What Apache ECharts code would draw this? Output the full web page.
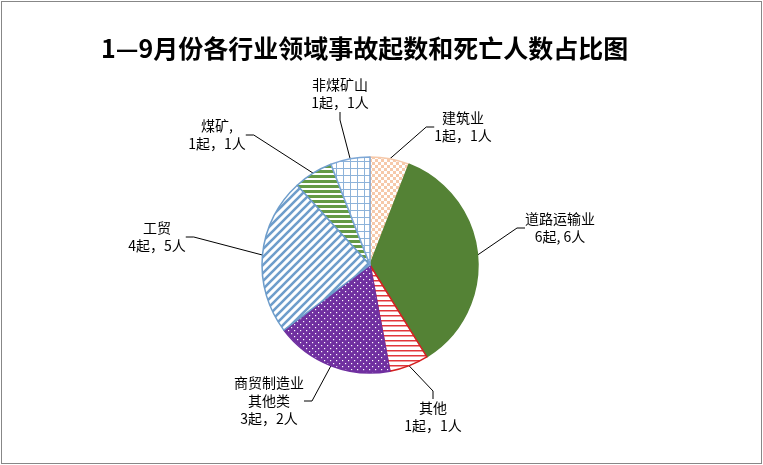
<!DOCTYPE html>
<html lang="zh">
<head>
    <meta charset="UTF-8">
    <script src="https://cdn.jsdelivr.net/npm/echarts@6/dist/echarts.min.js"></script>
    <title>事故占比图</title>
    <style>
        body { margin: 0; background: #fff; }
        #main { position: absolute; left: 0; top: 0; width: 763px; height: 465px; }
        #frame { position: absolute; left: 1px; top: 1px; width: 761px; height: 463px;
                 box-sizing: border-box; border: 1px solid #878787; pointer-events: none; }
    </style>
</head>
<body>
<div id="main"></div>
<div id="frame"></div>
<script>
    // 数据
    var categories = ['建筑业', '道路运输业', '其他', '商贸制造业其他类', '工贸', '煤矿', '非煤矿山'];
    var labelNames = ['建筑业', '道路运输业', '其他', '商贸制造业\n其他类', '工贸', '煤矿,', '非煤矿山'];
    var accidents = [1, 6, 1, 3, 4, 1, 1];   // 起数
    var deaths = [1, 6, 1, 2, 5, 1, 1];      // 死亡人数
    var commas = ['，', ', ', '，', '，', '，', '，', '，'];

    // 标签位置(中心点)
    var labelPos = [[463, 127], [560, 228], [433, 417], [269, 401], [157, 237], [217, 135], [340, 94]];

    function pattern(w, h, draw) {
        var c = document.createElement('canvas');
        c.width = w; c.height = h;
        var ctx = c.getContext('2d');
        ctx.fillStyle = '#fff';
        ctx.fillRect(0, 0, w, h);
        draw(ctx);
        return { image: c, repeat: 'repeat' };
    }

    var fills = [
        pattern(6, 6, function (ctx) { // 建筑业 格子
            ctx.fillStyle = '#F6C9AA';
            ctx.fillRect(0, 0, 3, 3);
            ctx.fillRect(3, 3, 3, 3);
        }),
        '#548235',
        pattern(4, 5, function (ctx) { // 其他 横线
            ctx.fillStyle = '#E2363A';
            ctx.fillRect(0, 0, 4, 1.5);
        }),
        pattern(6, 6, function (ctx) { // 商贸 点
            ctx.fillStyle = '#7030A0';
            ctx.fillRect(0, 0, 6, 6);
            ctx.fillStyle = '#fff';
            ctx.fillRect(0, 0, 1.2, 1.2);
            ctx.fillRect(3, 3, 1.2, 1.2);
        }),
        pattern(8, 8, function (ctx) { // 工贸 斜线
            ctx.strokeStyle = '#6E9DCB';
            ctx.lineWidth = 2.6;
            ctx.beginPath();
            ctx.moveTo(-1, 9); ctx.lineTo(9, -1);
            ctx.moveTo(-5, 5); ctx.lineTo(5, -5);
            ctx.moveTo(3, 13); ctx.lineTo(13, 3);
            ctx.stroke();
        }),
        pattern(4, 5, function (ctx) { // 煤矿 横条
            ctx.fillStyle = '#649A45';
            ctx.fillRect(0, 0, 4, 3);
        }),
        pattern(7, 7, function (ctx) { // 非煤矿山 网格
            ctx.fillStyle = '#8DB3DA';
            ctx.fillRect(0, 0, 7, 1);
            ctx.fillRect(0, 0, 1, 7);
        })
    ];
    var borders = ['#F6C9AA', '#548235', '#D42020', '#7030A0', '#6E9DCB', '#6E9DCB', '#7DA7D6'];

    var seriesData = categories.map(function (name, i) {
        return {
            name: name,
            value: accidents[i],
            itemStyle: { color: fills[i], borderColor: borders[i], borderWidth: 1.5 }
        };
    });

    var myChart = echarts.init(document.getElementById('main'));
    var option = {
        backgroundColor: '#fff',
        animation: false,
        title: {
            text: '1—9月份各行业领域事故起数和死亡人数占比图',
            left: 96,
            top: 31,
            textStyle: {
                fontFamily: 'Noto Sans CJK SC',
                fontSize: 25,
                fontWeight: 'bold',
                color: '#000'
            }
        },
        series: [{
            type: 'pie',
            center: [370, 265],
            radius: 108,
            startAngle: 90,
            clockwise: true,
            data: seriesData,
            label: {
                show: true,
                position: 'outside',
                fontFamily: 'Noto Sans CJK SC',
                fontSize: 14,
                lineHeight: 18,
                color: '#000',
                align: 'center',
                formatter: function (p) {
                    var i = p.dataIndex;
                    return labelNames[i] + '\n' + accidents[i] + '起' + commas[i] + deaths[i] + '人';
                }
            },
            labelLine: {
                show: true,
                length: 15,
                length2: 8,
                lineStyle: { color: '#000', width: 1 }
            },
            labelLayout: function (params) {
                var pos = labelPos[params.dataIndex];
                return { x: pos[0], y: pos[1], align: 'center', verticalAlign: 'middle' };
            },
            emphasis: { disabled: true }
        }]
    };
    myChart.setOption(option);
</script>
</body>
</html>
